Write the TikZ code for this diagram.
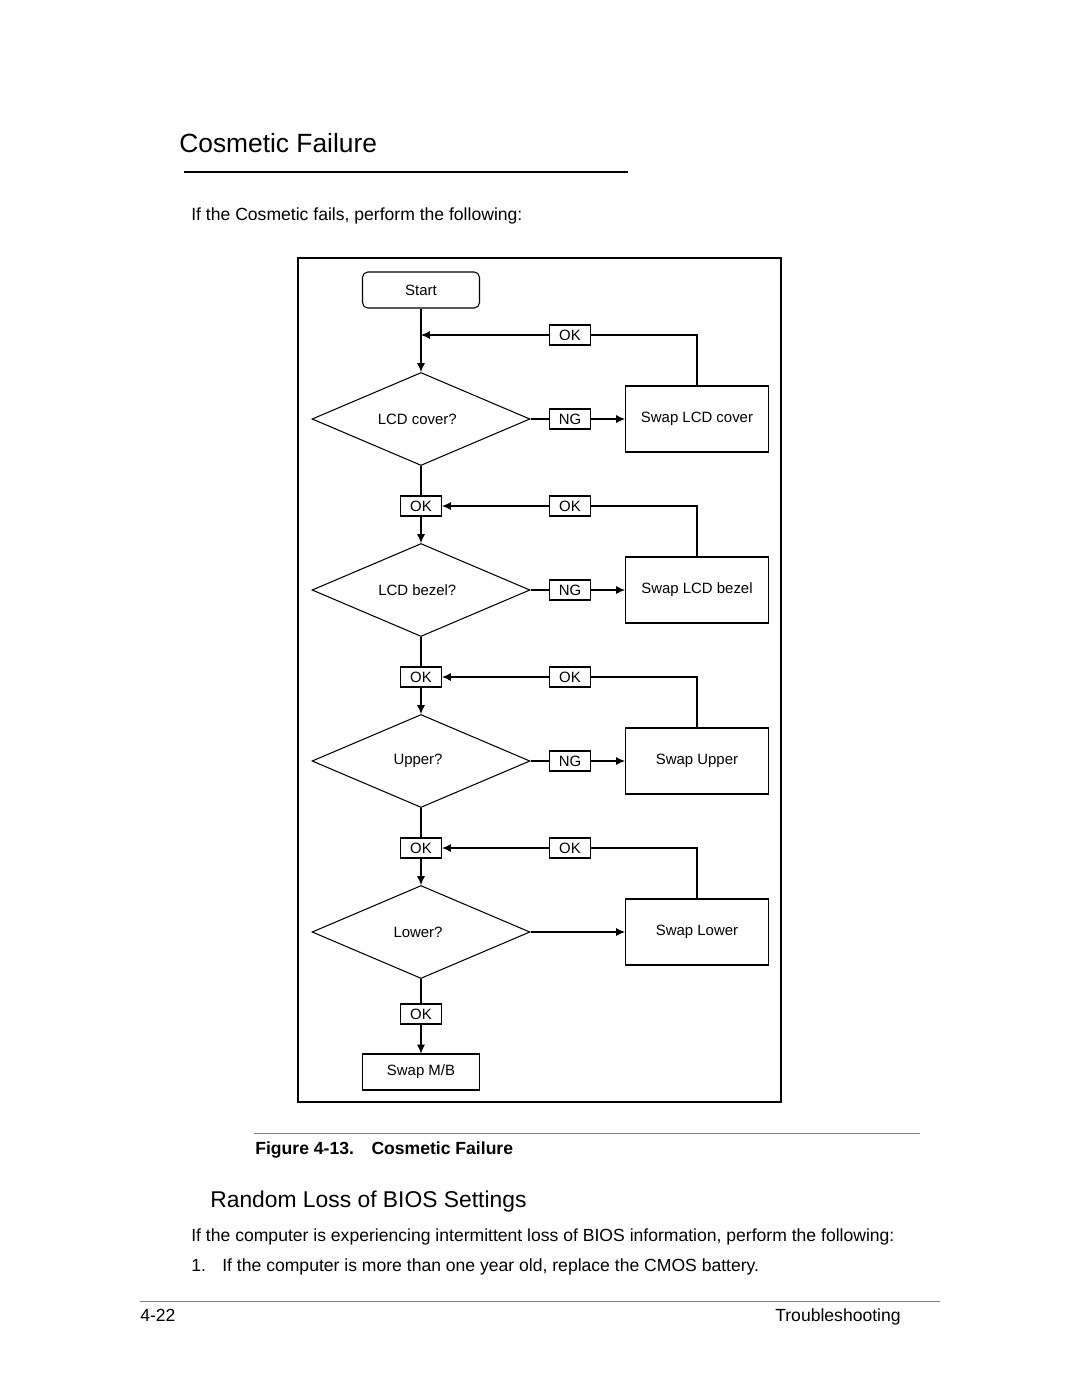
\documentclass[tikz,border=0pt]{standalone}
\usepackage{fontspec}
\setmainfont{Liberation Sans}
\usetikzlibrary{shapes.geometric, arrows.meta, positioning}
\tikzset{>={Latex[length=5pt,width=4.5pt]},
flow/.style={draw, line width=0.6pt, inner sep=0pt, font=\fontsize{8.5}{10}\selectfont},
startbox/.style={flow, rounded corners=3pt, minimum width=2.34cm, minimum height=0.72cm},
swapbox/.style={flow, minimum width=2.86cm, minimum height=1.32cm},
mbbox/.style={flow, minimum width=2.34cm, minimum height=0.72cm},
decision/.style={flow, diamond, minimum width=4.36cm, minimum height=1.86cm},
tag/.style={flow, minimum width=0.82cm, minimum height=0.4cm},
conn/.style={line width=0.6pt},
txt/.style={inner sep=0pt, anchor=base west, font=\fontsize{10}{12}\selectfont},
}

\begin{document}
\begin{tikzpicture}[x=0.02cm, y=-0.02cm]
    \useasboundingbox[fill=white] (0,0) rectangle (1080,1397);

    \node[txt, font=\fontsize{15}{18}\selectfont] (title) at (179,152) {Cosmetic Failure};
    \draw[line width=1.1pt] (184,172) -- (628,172);
    \node[txt] (intro) at (191,220) {If the Cosmetic fails, perform the following:};
    \draw[line width=1.2pt] (298,258) rectangle (781,1102);

    \node[startbox] (start) at (421,290) {Start};
    \coordinate (j0) at (421,335);
    \node[tag] (ok0) at (570,335) {OK};
    \node[decision] (cover) at (421,419) {\hspace{-0.5em}LCD cover?};
    \node[tag] (ng1) at (570,419) {NG};
    \node[swapbox] (swcover) at (697,419) {Swap LCD cover};
    \node[tag] (ok1l) at (421,506) {OK};
    \node[tag] (ok1r) at (570,506) {OK};
    \node[decision] (bezel) at (421,590) {\hspace{-0.5em}LCD bezel?};
    \node[tag] (ng2) at (570,590) {NG};
    \node[swapbox] (swbezel) at (697,590) {Swap LCD bezel};
    \node[tag] (ok2l) at (421,677) {OK};
    \node[tag] (ok2r) at (570,677) {OK};
    \node[decision] (upper) at (421,761) {\hspace{-0.4em}Upper?};
    \node[tag] (ng3) at (570,761) {NG};
    \node[swapbox] (swupper) at (697,761) {Swap Upper};
    \node[tag] (ok3l) at (421,848) {OK};
    \node[tag] (ok3r) at (570,848) {OK};
    \node[decision] (lower) at (421,932) {\hspace{-0.4em}Lower?};
    \node[swapbox] (swlower) at (697,932) {Swap Lower};
    \node[tag] (ok4) at (421,1014) {OK};
    \node[mbbox] (mb) at (421,1072) {Swap M/B};

    \draw[conn] (start) -- (j0);
    \draw[conn, ->] (j0) -- (cover);
    \draw[conn, ->] (ok0) -- (j0);
    \draw[conn] (ok0) -| (swcover);
    \draw[conn] (cover) -- (ng1);
    \draw[conn, ->] (ng1) -- (swcover);
    \draw[conn] (cover) -- (ok1l);
    \draw[conn, ->] (ok1r) -- (ok1l);
    \draw[conn] (ok1r) -| (swbezel);
    \draw[conn, ->] (ok1l) -- (bezel);
    \draw[conn] (bezel) -- (ng2);
    \draw[conn, ->] (ng2) -- (swbezel);
    \draw[conn] (bezel) -- (ok2l);
    \draw[conn, ->] (ok2r) -- (ok2l);
    \draw[conn] (ok2r) -| (swupper);
    \draw[conn, ->] (ok2l) -- (upper);
    \draw[conn] (upper) -- (ng3);
    \draw[conn, ->] (ng3) -- (swupper);
    \draw[conn] (upper) -- (ok3l);
    \draw[conn, ->] (ok3r) -- (ok3l);
    \draw[conn] (ok3r) -| (swlower);
    \draw[conn, ->] (ok3l) -- (lower);
    \draw[conn, ->] (lower) -- (swlower);
    \draw[conn] (lower) -- (ok4);
    \draw[conn, ->] (ok4) -- (mb);

    \draw[line width=0.5pt, gray] (254,1133) -- (920,1133);
    \node[txt, font=\bfseries\fontsize{10}{12}\selectfont] (caption) at (255,1154) {Figure 4-13.\hspace{1em}Cosmetic Failure};
    \node[txt, font=\fontsize{13}{16}\selectfont] (section) at (210,1207) {Random Loss of BIOS Settings};
    \node[txt] (para) at (191,1241) {If the computer is experiencing intermittent loss of BIOS information, perform the following:};
    \node[txt] (num) at (191,1271) {1.};
    \node[txt] (item) at (222,1271) {If the computer is more than one year old, replace the CMOS battery.};
    \draw[line width=0.5pt, gray] (140,1301) -- (940,1301);
    \node[txt] (pagenum) at (140,1321) {4-22};
    \node[txt, anchor=base east] (chapter) at (901,1321) {Troubleshooting};
\end{tikzpicture}
\end{document}
